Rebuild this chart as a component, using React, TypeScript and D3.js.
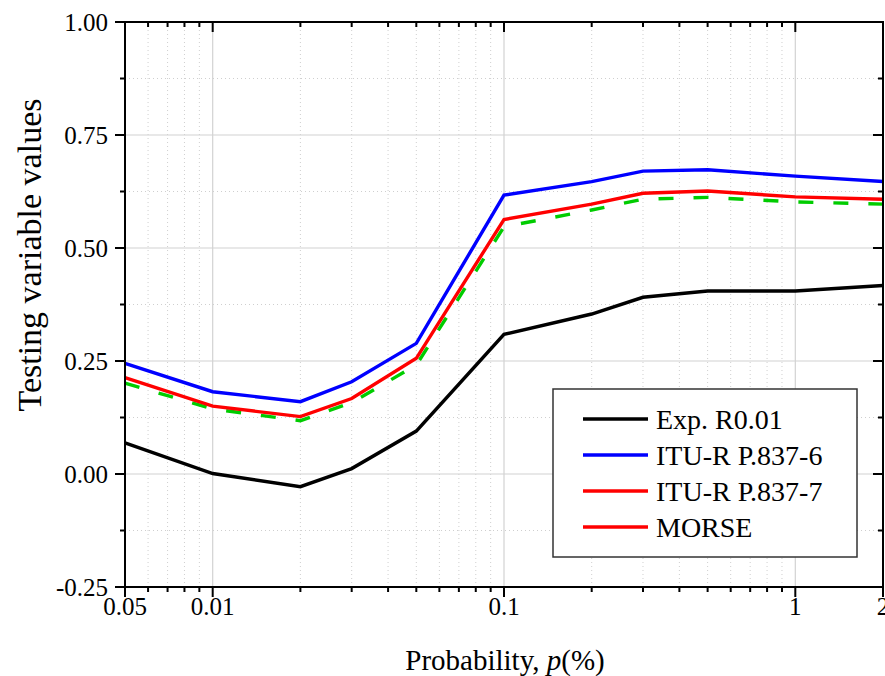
import React from "react";
import * as d3 from "d3";

const probs = [0.005, 0.01, 0.02, 0.03, 0.05, 0.1, 0.2, 0.3, 0.5, 1, 2];
const expR001 = [0.069, 0.001, -0.028, 0.012, 0.095, 0.309, 0.354, 0.391, 0.405, 0.405, 0.417];
const itu6 = [0.245, 0.182, 0.160, 0.204, 0.289, 0.617, 0.647, 0.670, 0.673, 0.659, 0.647];
const itu7 = [0.213, 0.150, 0.127, 0.167, 0.256, 0.563, 0.597, 0.621, 0.626, 0.613, 0.608];
const morse = [0.201, 0.144, 0.118, 0.158, 0.241, 0.547, 0.584, 0.608, 0.612, 0.602, 0.597];

const xMajorTicks = [0.005, 0.01, 0.1, 1, 2];
const xTickLabels = ["0.05", "0.01", "0.1", "1", "2"];
const xMinorTicks = [0.006, 0.007, 0.008, 0.009, 0.02, 0.03, 0.04, 0.05, 0.06, 0.07, 0.08, 0.09, 0.2, 0.3, 0.4, 0.5, 0.6, 0.7, 0.8, 0.9];
const xGridMajor = [0.01, 0.1, 1];
const yMajorTicks = [-0.25, 0, 0.25, 0.5, 0.75, 1];
const yTickLabels = ["-0.25", "0.00", "0.25", "0.50", "0.75", "1.00"];
const yMinorTicks = [-0.125, 0.125, 0.375, 0.625, 0.875];

const legendNames = ["Exp. R0.01", "ITU-R P.837-6", "ITU-R P.837-7", "MORSE"];
const legendColors = ["#000000", "#0000ff", "#ff0000", "#ff0000"];

const W = 885, H = 676;
const L = 125, R = 883, T = 22, B = 587;
const FONT = '"Liberation Serif", "Times New Roman", serif';

export default function App() {
  const x = d3.scaleLog().domain([0.005, 2]).range([L, R]);
  const y = d3.scaleLinear().domain([-0.25, 1]).range([B, T]);
  const line = d3.line<number>().x((_, i) => x(probs[i])).y((d) => y(d));

  const series = [
    { data: expR001, color: "#000000", dash: undefined },
    { data: itu6, color: "#0000ff", dash: undefined },
    { data: morse, color: "#00cc00", dash: "15,20" },
    { data: itu7, color: "#ff0000", dash: undefined },
  ];

  return (
    <div style={{ position: "absolute", left: 0, top: 0 }}>
      <svg width={W} height={H} style={{ display: "block", background: "#fff" }} fontFamily={FONT}>
        {xMinorTicks.map((v) => (
          <line key={"gxm" + v} x1={x(v)} x2={x(v)} y1={T} y2={B} stroke="#cfcfcf" strokeWidth={1} strokeDasharray="1,3" />
        ))}
        {yMinorTicks.map((v) => (
          <line key={"gym" + v} x1={L} x2={R} y1={y(v)} y2={y(v)} stroke="#cfcfcf" strokeWidth={1} strokeDasharray="1,3" />
        ))}
        {xGridMajor.map((v) => (
          <line key={"gx" + v} x1={x(v)} x2={x(v)} y1={T} y2={B} stroke="#d2d2d2" strokeWidth={1.2} />
        ))}
        {yMajorTicks.slice(1, -1).map((v) => (
          <line key={"gy" + v} x1={L} x2={R} y1={y(v)} y2={y(v)} stroke="#d2d2d2" strokeWidth={1.2} />
        ))}

        {series.map((s, i) => (
          <path key={"s" + i} d={line(s.data) || ""} fill="none" stroke={s.color} strokeWidth={3.4}
            strokeDasharray={s.dash} strokeLinejoin="miter" />
        ))}

        <rect x={L} y={T} width={R - L} height={B - T} fill="none" stroke="#000" strokeWidth={2} />

        {xMajorTicks.map((v) => (
          <g key={"xt" + v}>
            <line x1={x(v)} x2={x(v)} y1={B} y2={B + 10} stroke="#000" strokeWidth={2} />
            <line x1={x(v)} x2={x(v)} y1={T} y2={T + 10} stroke="#000" strokeWidth={2} />
          </g>
        ))}
        {xMinorTicks.map((v) => (
          <g key={"xmt" + v}>
            <line x1={x(v)} x2={x(v)} y1={B} y2={B + 5} stroke="#000" strokeWidth={2} />
            <line x1={x(v)} x2={x(v)} y1={T} y2={T + 5} stroke="#000" strokeWidth={2} />
          </g>
        ))}
        {xMajorTicks.map((v, i) => (
          <text key={"xl" + v} x={x(v)} y={615} textAnchor="middle" fontSize={25}>{xTickLabels[i]}</text>
        ))}

        {yMajorTicks.map((v) => (
          <g key={"yt" + v}>
            <line x1={L - 10} x2={L} y1={y(v)} y2={y(v)} stroke="#000" strokeWidth={2} />
            <line x1={R - 10} x2={R} y1={y(v)} y2={y(v)} stroke="#000" strokeWidth={2} />
          </g>
        ))}
        {yMinorTicks.map((v) => (
          <g key={"ymt" + v}>
            <line x1={L - 5} x2={L} y1={y(v)} y2={y(v)} stroke="#000" strokeWidth={2} />
            <line x1={R - 5} x2={R} y1={y(v)} y2={y(v)} stroke="#000" strokeWidth={2} />
          </g>
        ))}
        {yMajorTicks.map((v, i) => (
          <text key={"yl" + v} x={108} y={y(v)} dy="0.35em" textAnchor="end" fontSize={25}>{yTickLabels[i]}</text>
        ))}

        <text transform="translate(41,255) rotate(-90)" textAnchor="middle" fontSize={34}>Testing variable values</text>
        <text x={505} y={670} textAnchor="middle" fontSize={29}>
          Probability, <tspan fontStyle="italic">p</tspan>(%)
        </text>

        <rect x={553} y={389} width={304} height={168} fill="#fff" stroke="#333" strokeWidth={1.5} />
        {legendNames.map((n, i) => (
          <g key={"lg" + i}>
            <line x1={583} x2={648} y1={419 + i * 36} y2={419 + i * 36} stroke={legendColors[i]} strokeWidth={3.4} />
            <text x={656} y={419 + i * 36} dy="0.35em" fontSize={28}>{n}</text>
          </g>
        ))}
      </svg>
    </div>
  );
}
